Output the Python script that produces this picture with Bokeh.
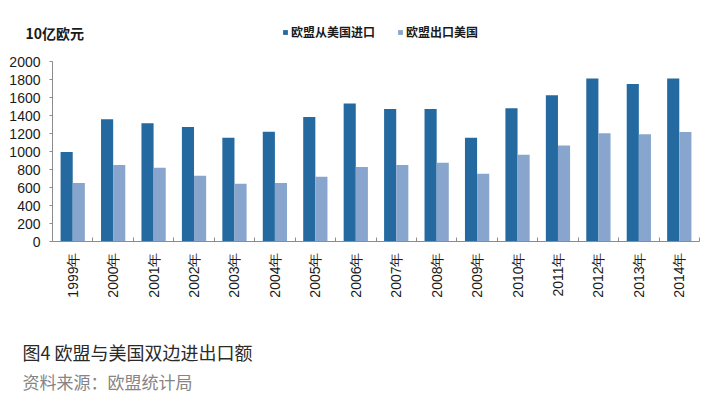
import math
from bokeh.plotting import figure
from bokeh.models import (Range1d, FixedTicker, CustomJSTickFormatter, Legend, LegendItem,
                          Label, ColumnDataSource)
from bokeh.embed import file_html
from bokeh.resources import INLINE
import numpy as np

years = ["1999年", "2000年", "2001年", "2002年", "2003年", "2004年", "2005年", "2006年",
         "2007年", "2008年", "2009年", "2010年", "2011年", "2012年", "2013年", "2014年"]
imports_from_us = [995, 1359, 1314, 1273, 1152, 1220, 1384, 1532,
                   1473, 1473, 1152, 1480, 1624, 1812, 1750, 1812]
exports_to_us = [650, 849, 819, 731, 642, 650, 720, 827,
                 849, 875, 753, 963, 1067, 1203, 1192, 1218]
y_ticks = [0, 200, 400, 600, 800, 1000, 1200, 1400, 1600, 1800, 2000]

unit_label = "10亿欧元"
series_names = ["欧盟从美国进口", "欧盟出口美国"]
caption = "图4 欧盟与美国双边进出口额"
source_note = "资料来源：欧盟统计局"

DARK = "#246AA0"
LIGHT = "#88A6CD"
AXIS = "#8c8c8c"
FONT = "Liberation Sans"
CJK = "Noto Sans CJK SC"

n = len(years)
idx = np.arange(n)
src = ColumnDataSource(dict(
    xi=idx + 0.5 - 0.15,
    xe=idx + 0.5 + 0.15,
    imp=imports_from_us,
    exp=exports_to_us,
))

# layout (canvas px): frame x 52..699, value 0 at y=241, 2000 at y=61
FL, FT, FB, FW = 52, 10, 241, 647
PX_PER_UNIT = 180 / 2000
FH = FB - FT
Y_END = FH / PX_PER_UNIT

p = figure(frame_width=FW, frame_height=FH, output_backend="svg", toolbar_location=None,
           x_range=Range1d(0, n), y_range=Range1d(0, Y_END),
           min_border_left=FL, min_border_top=FT, min_border_right=710 - FL - FW,
           min_border_bottom=398 - FB)
p.outline_line_color = None
p.xgrid.visible = False
p.ygrid.visible = False
p.background_fill_color = "white"
p.border_fill_color = "white"

r1 = p.vbar(x="xi", top="imp", width=0.3, source=src, fill_color=DARK, line_color=None)
r2 = p.vbar(x="xe", top="exp", width=0.3, source=src, fill_color=LIGHT, line_color=None)

# x axis
xa = p.xaxis[0]
xa.ticker = FixedTicker(ticks=list(idx + 0.5), minor_ticks=list(range(n + 1)))
xa.formatter = CustomJSTickFormatter(args=dict(labels=years),
                                     code="return labels[Math.floor(tick)];")
xa.major_tick_in = 0
xa.major_tick_out = 0
xa.minor_tick_in = 4
xa.minor_tick_out = 0
xa.minor_tick_line_color = AXIS
xa.axis_line_color = AXIS
xa.major_label_orientation = math.pi / 2
xa.major_label_standoff = 11
xa.major_label_text_font = FONT
xa.major_label_text_font_size = "14px"
xa.major_label_text_color = "#1a1a1a"

# y axis
ya = p.yaxis[0]
ya.ticker = FixedTicker(ticks=y_ticks)
ya.bounds = (0, 2000)
ya.major_tick_in = 0
ya.major_tick_out = 3
ya.minor_tick_in = 0
ya.minor_tick_out = 0
ya.major_tick_line_color = AXIS
ya.axis_line_color = AXIS
ya.major_label_standoff = 9
ya.major_label_text_font = FONT
ya.major_label_text_font_size = "14px"
ya.major_label_text_color = "#1a1a1a"

# legend inside the (extended) frame
legend = Legend(items=[LegendItem(label=series_names[0], renderers=[r1]),
                       LegendItem(label=series_names[1], renderers=[r2])],
                location=(282 - FL, FB - 40), orientation="horizontal",
                glyph_width=6, glyph_height=6, label_standoff=3, spacing=22,
                padding=0, margin=0, border_line_color=None, background_fill_alpha=0,
                label_text_font=CJK, label_text_font_size="12px", label_text_font_style="bold",
                label_text_color="#1a1a1a", label_height=14)
p.add_layout(legend)

def data_x(px):
    return (px - FL) * n / FW

def data_y(py):
    return (FB - py) / PX_PER_UNIT

# texts outside the frame: labels in the side panel, placed through the plot's scales
p.add_layout(Label(x=data_x(25), y=data_y(32), text=unit_label, text_font=CJK,
                   text_font_size="14px", text_font_style="bold", text_color="#1a1a1a",
                   text_baseline="middle", text_align="left"), "below")
p.add_layout(Label(x=data_x(22), y=data_y(351), text=caption, text_font=CJK,
                   text_font_size="18px", text_color="#2a2a2a",
                   text_baseline="middle", text_align="left"), "below")
p.add_layout(Label(x=data_x(22), y=data_y(381), text=source_note, text_font=CJK,
                   text_font_size="17px", text_color="#858585",
                   text_baseline="middle", text_align="left"), "below")

open("out.html", "w").write(file_html(p, INLINE))
